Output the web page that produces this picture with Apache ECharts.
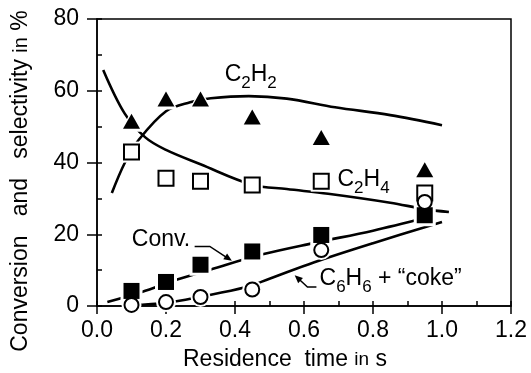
<!DOCTYPE html>
<meta charset="utf-8">
<style>
html, body { margin: 0; padding: 0; background: #fff; }
#main { width: 531px; height: 373px; }
</style>
<div id="main"></div>
<script src="https://cdn.jsdelivr.net/npm/echarts@6/dist/echarts.min.js"></script>
<script>
// measured points (residence time in s)
var times = [0.1, 0.2, 0.3, 0.45, 0.65, 0.95];
var c2h2 = [51.5, 57.7, 57.7, 52.7, 47, 38];
var c2h4 = [42.9, 35.6, 34.8, 33.7, 34.8, 31.5];
var conv = [4.2, 6.7, 11.5, 15.2, 19.8, 25.3];
var benzene = [0.3, 1.1, 2.5, 4.6, 15.6, 29];

// hand-drawn trend curves
var c2h2CurveX = [0.043, 0.08, 0.12, 0.2, 0.27, 0.33, 0.44, 0.55, 0.69, 0.85, 1.0];
var c2h2CurveY = [31.5, 39.8, 46.2, 54.3, 56.8, 57.9, 58.5, 57.8, 55.4, 53.2, 50.4];
var c2h4CurveX = [0.018, 0.08, 0.14, 0.2, 0.3, 0.45, 0.55, 0.67, 0.85, 0.95, 1.02];
var c2h4CurveY = [65.8, 53.7, 47, 43.5, 39.5, 33.8, 32.6, 31.3, 28.8, 27, 26.2];
var convLineX = [0.03, 0.13, 0.23, 0.33, 0.48, 0.63, 0.8, 0.95];
var convLineY = [1.1, 3.9, 7.3, 10.2, 14.4, 17.6, 21, 24.5];
var benzLineX = [0.1, 0.2, 0.3, 0.43, 0.5, 0.63, 0.8, 1.0];
var benzLineY = [0.2, 0.9, 2.6, 5.2, 7.6, 12.2, 17.5, 23.4];

var font = 'Liberation Sans, Arial, sans-serif';

function pairs(xs, ys) {
    return xs.map(function (x, i) { return [x, ys[i]]; });
}

function curve(xs, ys) {
    return {
        type: 'line',
        data: pairs(xs, ys),
        smooth: 0.35,
        showSymbol: false,
        silent: true,
        z: 1,
        lineStyle: { color: '#000', width: 2.6 }
    };
}

function halo(ys, symbol, size) {
    return {
        type: 'scatter',
        data: pairs(times, ys),
        symbol: symbol,
        symbolSize: size,
        z: 3,
        itemStyle: { color: '#fff', opacity: 1 }
    };
}

function marks(ys, symbol, size, filled, z) {
    return {
        type: 'scatter',
        data: pairs(times, ys),
        symbol: symbol,
        symbolSize: size,
        z: z,
        itemStyle: filled
            ? { color: '#000', opacity: 1 }
            : { color: '#fff', borderColor: '#000', borderWidth: 2, opacity: 1 }
    };
}

var chart = echarts.init(document.getElementById('main'));

var option = {
    animation: false,
    grid: {
        left: 97, right: 20, top: 19, bottom: 67,
        show: true, borderColor: '#000', borderWidth: 1.5
    },
    xAxis: [{
        type: 'value', min: 0, max: 1.2, interval: 0.2,
        axisLine: { lineStyle: { color: '#000', width: 1.5 } },
        axisTick: { length: 8, lineStyle: { color: '#000', width: 1.5 } },
        axisLabel: {
            color: '#000', fontSize: 23, fontFamily: font, margin: 13,
            formatter: function (v) { return v.toFixed(1); }
        },
        splitLine: { show: false }
    }, {
        type: 'value', min: 0, max: 1.2, interval: 0.1, position: 'bottom',
        axisLine: { show: false },
        axisTick: { inside: true, length: 5, lineStyle: { color: '#000', width: 1.5 } },
        axisLabel: { show: false },
        splitLine: { show: false }
    }],
    yAxis: [{
        type: 'value', min: 0, max: 80, interval: 20,
        axisLine: { show: true, lineStyle: { color: '#000', width: 1.5 } },
        axisTick: { show: true, length: 10, lineStyle: { color: '#000', width: 1.5 } },
        axisLabel: { color: '#000', fontSize: 23, fontFamily: font, margin: 18 },
        splitLine: { show: false }
    }, {
        type: 'value', min: 0, max: 80, interval: 10, position: 'left',
        axisLine: { show: false },
        axisTick: { show: true, inside: true, length: 5, lineStyle: { color: '#000', width: 1.5 } },
        axisLabel: { show: false },
        splitLine: { show: false }
    }],
    series: [
        curve(c2h2CurveX, c2h2CurveY),
        curve(c2h4CurveX, c2h4CurveY),
        curve(convLineX, convLineY),
        curve(benzLineX, benzLineY),
        halo(c2h2, 'triangle', [23, 21]),
        halo(c2h4, 'rect', 21),
        halo(conv, 'rect', 22),
        halo(benzene, 'circle', 20),
        marks(c2h2, 'triangle', [17, 15], true, 4),
        marks(c2h4, 'rect', 15, false, 5),
        marks(conv, 'rect', 16, true, 6),
        marks(benzene, 'circle', 14, false, 7)
    ]
};
chart.setOption(option);

// annotations, placed in data coordinates
function px(p) { return chart.convertToPixel({ gridIndex: 0 }, p); }

var sub = {
    b: { fontSize: 23, fontFamily: font, color: '#000', lineHeight: 34 },
    s: { fontSize: 17, fontFamily: font, color: '#000', verticalAlign: 'bottom' }
};

function label(text, at) {
    var p = px(at);
    return {
        type: 'text', x: p[0], y: p[1], z: 20,
        style: { text: text, rich: sub, fill: '#000', font: '23px ' + font,
                 align: 'left', verticalAlign: 'middle' }
    };
}

function arrow(points) {
    var pts = points.map(px);
    var a = pts[pts.length - 2], b = pts[pts.length - 1];
    var dx = b[0] - a[0], dy = b[1] - a[1];
    var len = Math.sqrt(dx * dx + dy * dy);
    var ux = dx / len, uy = dy / len;
    var L = 8, W = 3.5;
    var bx = b[0] - ux * L, by = b[1] - uy * L;
    return [{
        type: 'polyline', z: 20,
        shape: { points: pts.slice(0, -1).concat([[bx + ux * 2, by + uy * 2]]) },
        style: { stroke: '#000', lineWidth: 1.5, fill: null }
    }, {
        type: 'polygon', z: 20,
        shape: { points: [b, [bx - uy * W, by + ux * W], [bx + uy * W, by - ux * W]] },
        style: { fill: '#000' }
    }];
}

var graphics = [
    label('{b|C}{s|2}{b|H}{s|2}', [0.37, 64.4]),
    label('{b|C}{s|2}{b|H}{s|4}', [0.697, 35.3]),
    label('{b|Conv.}', [0.101, 18.4]),
    label('{b|C}{s|6}{b|H}{s|6}{b| + \u201ccoke\u201d}', [0.645, 7.5]),
    {
        type: 'text', x: 21, y: 181, rotation: Math.PI / 2,
        style: { text: 'Conversion   and   selectivity {s|in} %', fill: '#000',
                 font: '23px ' + font, align: 'center', verticalAlign: 'middle',
                 rich: { s: { fontSize: 20, fontFamily: font } } }
    },
    {
        type: 'text', x: 285, y: 360,
        style: { text: 'Residence  time {s|in} s', fill: '#000',
                 font: '23px ' + font, align: 'center', verticalAlign: 'middle',
                 rich: { s: { fontSize: 19, fontFamily: font } } }
    }
];
graphics = graphics
    .concat(arrow([[0.283, 16.6], [0.327, 16.6], [0.391, 12.6]]))
    .concat(arrow([[0.636, 5.3], [0.61, 5.3], [0.573, 8.6]]));

chart.setOption({ graphic: graphics });
</script>
